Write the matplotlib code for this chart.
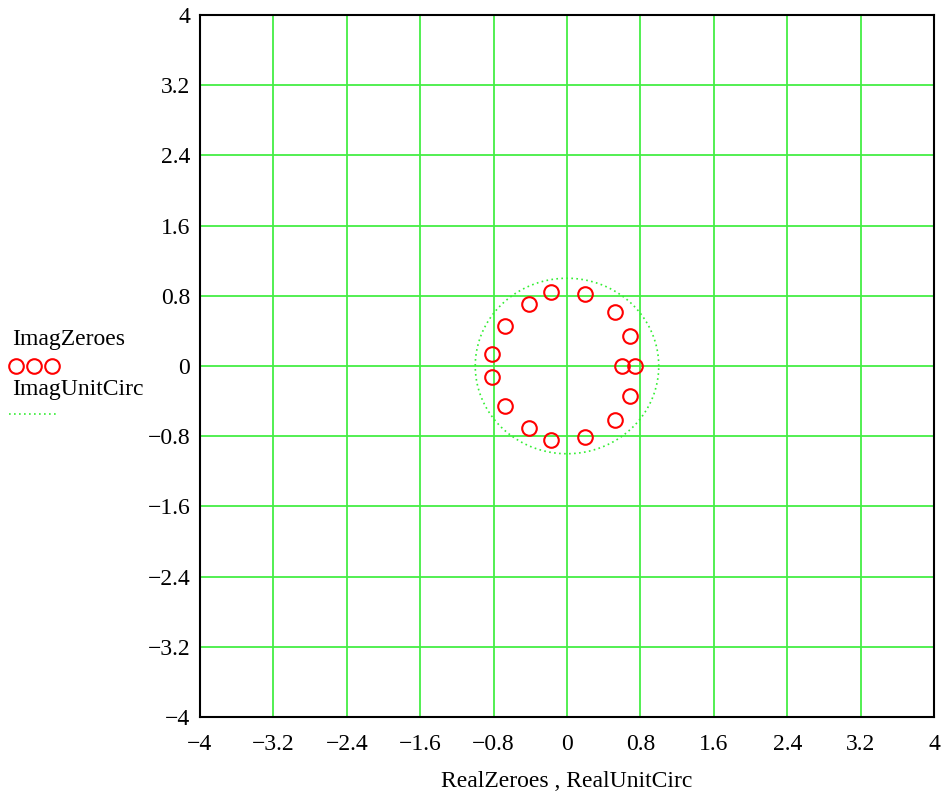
import numpy as np
import matplotlib
matplotlib.use("Agg")
import matplotlib.pyplot as plt
from matplotlib.lines import Line2D

plt.rcParams['font.family'] = ['Liberation Serif', 'DejaVu Serif']

real_zeroes = [-0.17, 0.20, -0.41, 0.52, -0.68, 0.69, -0.82, 0.60, 0.74,
               -0.82, 0.69, -0.68, 0.52, -0.41, -0.17, 0.20]
imag_zeroes = [0.847, 0.818, 0.708, 0.615, 0.46, 0.347, 0.136, 0.0, 0.0,
               -0.131, -0.342, -0.455, -0.614, -0.704, -0.847, -0.814]
ticks = [-4, -3.2, -2.4, -1.6, -0.8, 0, 0.8, 1.6, 2.4, 3.2, 4]
tick_labels = ['\u22124', '\u22123.2', '\u22122.4', '\u22121.6', '\u22120.8', '0',
               '0.8', '1.6', '2.4', '3.2', '4']

theta = np.linspace(0, 2 * np.pi, 400)
real_unit = np.cos(theta)
imag_unit = np.sin(theta)

fig = plt.figure(figsize=(9.45, 7.95), dpi=100)
ax = fig.add_axes([200/945, 1-717/795, 734/945, 702/795])
green = '#33ee33'
ax.plot(real_unit, imag_unit, linestyle=(0, (1, 2)), color=green, lw=1.2)
ax.plot(real_zeroes, imag_zeroes, linestyle='none', marker='o', markersize=10.5,
        markerfacecolor='none', markeredgecolor='red', markeredgewidth=1.5)
ax.set_xlim(-4, 4)
ax.set_ylim(-4, 4)
ax.set_xticks(ticks)
ax.set_yticks(ticks)
ax.set_xticklabels(tick_labels, fontsize=17)
ax.set_yticklabels(tick_labels, fontsize=17)
ax.tick_params(axis='x', length=0, pad=12)
ax.tick_params(axis='y', length=0, pad=7)
for lab in ax.get_yticklabels():
    lab.set_verticalalignment('center_baseline')
ax.grid(True, color='#44ee44', lw=1.3)
ax.set_axisbelow(True)
for s in ax.spines.values():
    s.set_linewidth(1.5)
    s.set_color('black')
ax.set_xlabel('RealZeroes , RealUnitCirc', fontsize=17, labelpad=12)

# legend at left
fig.text(12/945, 1-340/795, 'ImagZeroes', fontsize=17, va='center', ha='left')
leg_x = [16/945, 34/945, 52/945]
fig.add_artist(Line2D(leg_x, [1-366/795]*3, transform=fig.transFigure, linestyle='none',
                      marker='o', markersize=10.5, markerfacecolor='none',
                      markeredgecolor='red', markeredgewidth=1.5))
fig.text(12/945, 1-390/795, 'ImagUnitCirc', fontsize=17, va='center', ha='left')
fig.add_artist(Line2D([9/945, 57/945], [1-414/795]*2, transform=fig.transFigure,
                      linestyle=(0, (1, 2)), color=green, lw=1.2))

fig.savefig('out.png', dpi=100)
